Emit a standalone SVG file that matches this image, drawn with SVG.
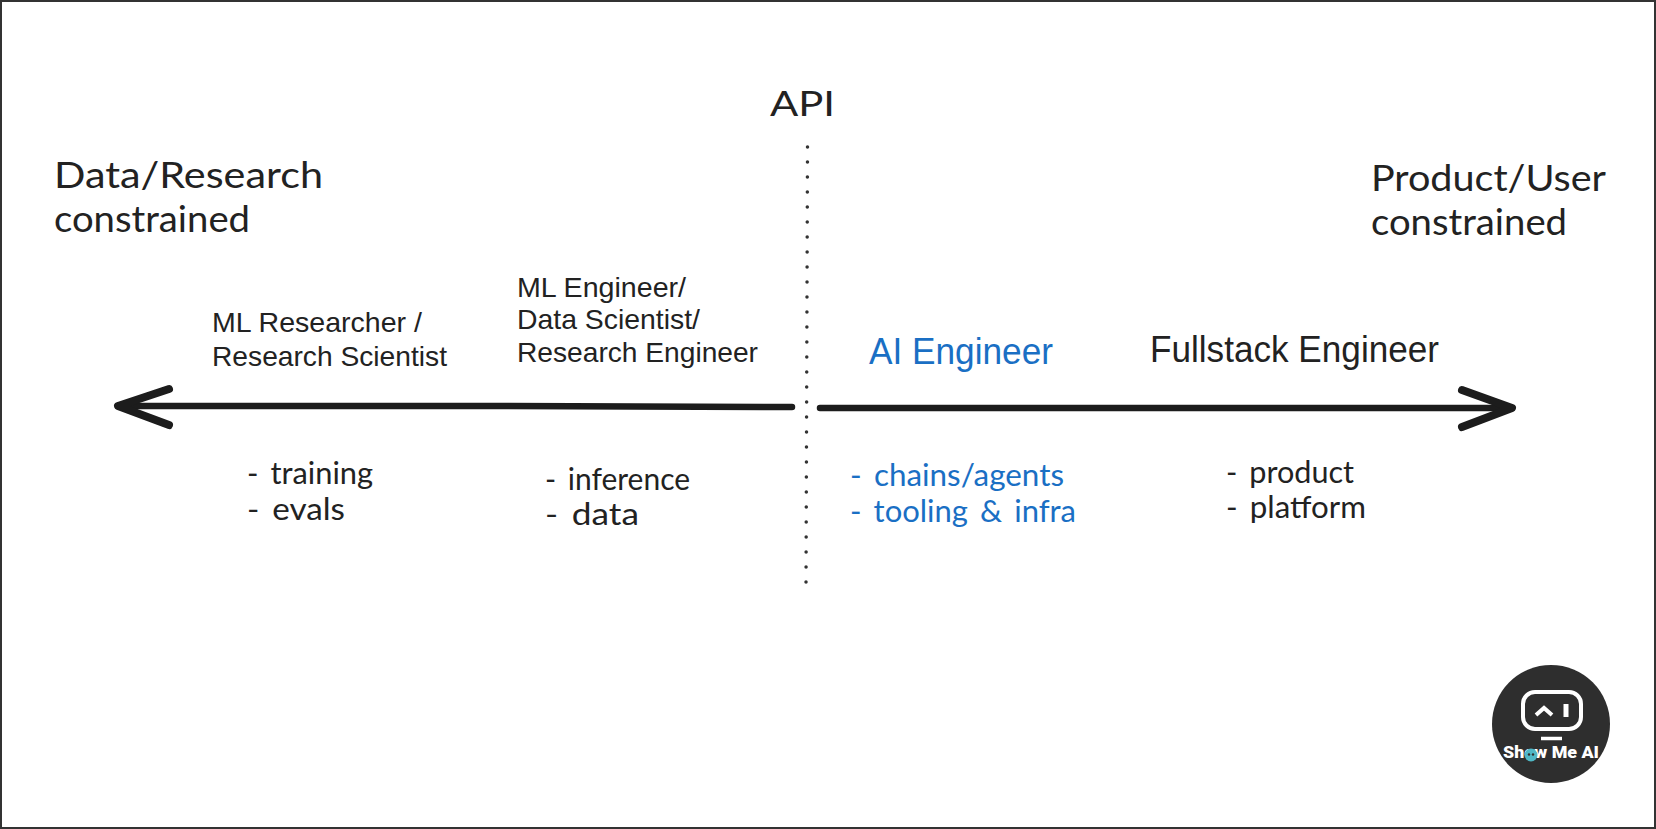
<svg xmlns="http://www.w3.org/2000/svg" width="1656" height="829" viewBox="0 0 1656 829">
<style>
.sans{font-family:"Liberation Sans",Arial,sans-serif;fill:#222}
.hand{font-family:"Lato","Noto Sans",sans-serif;fill:#222}
.blue{fill:#1a6fc4}
.big{font-size:36px}
.mid{font-size:28px}
.note{font-size:30px;word-spacing:4px}
.head{font-size:36px}
.ax{fill:none;stroke:#1c1c1c;stroke-linecap:round;stroke-linejoin:round}
</style>
<rect id="frame" x="1" y="1" width="1654" height="827" fill="#fff" stroke="#333" stroke-width="2"/>
<g id="connectors">
<path class="ax" stroke-width="6.500" d="M792 407L500 406H118"/>
<path class="ax" stroke-width="8" d="M169 389L118 406L169 425"/>
<path class="ax" stroke-width="6.500" d="M820 408H1512"/>
<path class="ax" stroke-width="8" d="M1462 390L1512 408L1462 427"/>
<path fill="none" stroke="#333" stroke-width="3.500" stroke-linecap="round" stroke-dasharray="0 15" d="M807.500 147L806 585"/>
</g>
<g id="api"><text class="hand" x="770" y="116" font-size="34" textLength="65" lengthAdjust="spacingAndGlyphs">API</text></g>
<g id="data-research"><text class="hand head" x="54" y="188" textLength="269" lengthAdjust="spacingAndGlyphs">Data/Research</text><text class="hand head" x="54" y="232" textLength="196" lengthAdjust="spacingAndGlyphs">constrained</text></g>
<g id="product-user"><text class="hand head" x="1371" y="191" textLength="235" lengthAdjust="spacingAndGlyphs">Product/User</text><text class="hand head" x="1371" y="235" textLength="196" lengthAdjust="spacingAndGlyphs">constrained</text></g>
<g id="ml-researcher"><text class="sans mid" x="212" y="332" textLength="210" lengthAdjust="spacingAndGlyphs">ML Researcher /</text><text class="sans mid" x="212" y="366" textLength="235" lengthAdjust="spacingAndGlyphs">Research Scientist</text></g>
<g id="ml-engineer"><text class="sans mid" x="517" y="297" textLength="169" lengthAdjust="spacingAndGlyphs">ML Engineer/</text><text class="sans mid" x="517" y="329" textLength="183" lengthAdjust="spacingAndGlyphs">Data Scientist/</text><text class="sans mid" x="517" y="362" textLength="241" lengthAdjust="spacingAndGlyphs">Research Engineer</text></g>
<g id="ai-engineer"><text class="sans big blue" x="869" y="364" textLength="184" lengthAdjust="spacingAndGlyphs">AI Engineer</text></g>
<g id="fullstack-engineer"><text class="sans big" x="1150" y="362" textLength="289" lengthAdjust="spacingAndGlyphs">Fullstack Engineer</text></g>
<g id="notes-research"><text class="hand note" x="247" y="484" textLength="126" lengthAdjust="spacingAndGlyphs">- training</text><text class="hand note" x="247" y="520" textLength="98" lengthAdjust="spacingAndGlyphs">- evals</text></g>
<g id="notes-engineer"><text class="hand note" x="545" y="490" textLength="145" lengthAdjust="spacingAndGlyphs">- inference</text><text class="hand note" x="545" y="525" textLength="94" lengthAdjust="spacingAndGlyphs">- data</text></g>
<g id="notes-ai"><text class="hand note blue" style="fill:#1a6fc4" x="850" y="486" textLength="214" lengthAdjust="spacingAndGlyphs">- chains/agents</text><text class="hand note blue" style="fill:#1a6fc4" x="850" y="522" textLength="226" lengthAdjust="spacingAndGlyphs">- tooling &amp; infra</text></g>
<g id="notes-fullstack"><text class="hand note" x="1226" y="483" textLength="128" lengthAdjust="spacingAndGlyphs">- product</text><text class="hand note" x="1226" y="518" textLength="140" lengthAdjust="spacingAndGlyphs">- platform</text></g>
<g id="badge">
<circle cx="1551" cy="724" r="59" fill="#2e2e2e"/>
<rect x="1523" y="692" width="58" height="37" rx="12" fill="none" stroke="#fff" stroke-width="4"/>
<path d="M1536 715L1544 708L1552 715" fill="none" stroke="#fff" stroke-width="4"/>
<path d="M1566 704V717" stroke="#fff" stroke-width="5"/>
<path d="M1541 738.500H1562" stroke="#fff" stroke-width="3.500"/>
<text x="1551" y="758" text-anchor="middle" font-family="Roboto,sans-serif" font-weight="900" font-size="16" fill="#fff" textLength="96" lengthAdjust="spacingAndGlyphs">Show Me AI</text>
<circle cx="1531" cy="755" r="6.500" fill="#4fb8c6"/>
<circle cx="1529" cy="754.500" r="1.200" fill="#2e2e2e"/>
<circle cx="1533" cy="754.500" r="1.200" fill="#2e2e2e"/>
</g>
</svg>
